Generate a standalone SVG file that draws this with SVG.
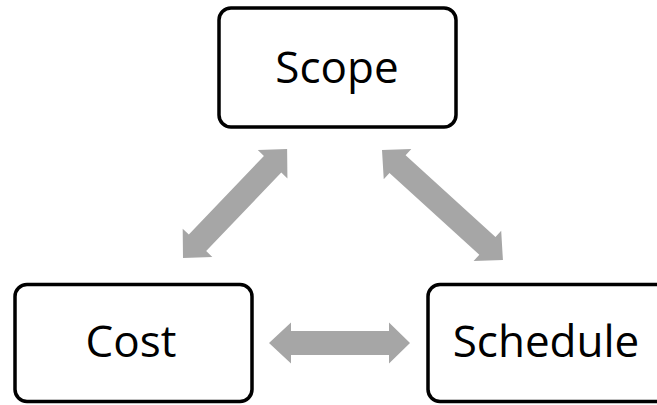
<svg xmlns="http://www.w3.org/2000/svg" width="657" height="405" viewBox="0 0 657 405">
  <style>
    .box { fill: #ffffff; stroke: #000000; stroke-width: 3.5; }
    .lbl { font-family: "Open Sans", "Noto Sans", "Liberation Sans", sans-serif; font-size: 44px; fill: #000000; text-anchor: middle; }
    .arr { fill: #A6A6A6; stroke: none; }
  </style>
  <rect width="657" height="405" fill="#ffffff"/>
  <g id="connectors">
    <polygon class="arr" transform="translate(183,258) rotate(-46.3)" points="0,0 21,-20.5 21,-12 129.7,-12 129.7,-20.5 150.7,0 129.7,20.5 129.7,12 21,12 21,20.5"/>
    <polygon class="arr" transform="translate(382,150) rotate(42.3)" points="0,0 21,-20.5 21,-12 142.5,-12 142.5,-20.5 163.5,0 142.5,20.5 142.5,12 21,12 21,20.5"/>
    <polygon class="arr" transform="translate(269,343)" points="0,0 22,-20.5 22,-12 120,-12 120,-20.5 141,0 120,20.5 120,12 22,12 22,20.5"/>
  </g>
  <g id="scope">
    <rect class="box" x="219" y="8" width="237" height="119" rx="12" ry="12"/>
    <text class="lbl" x="337" y="83">Scope</text>
  </g>
  <g id="cost">
    <rect class="box" x="15" y="284.5" width="237" height="117" rx="12" ry="12"/>
    <text class="lbl" x="131" y="357">Cost</text>
  </g>
  <g id="schedule">
    <rect class="box" x="428" y="284.5" width="260" height="117" rx="12" ry="12"/>
    <text class="lbl" x="546" y="357">Schedule</text>
  </g>
</svg>
